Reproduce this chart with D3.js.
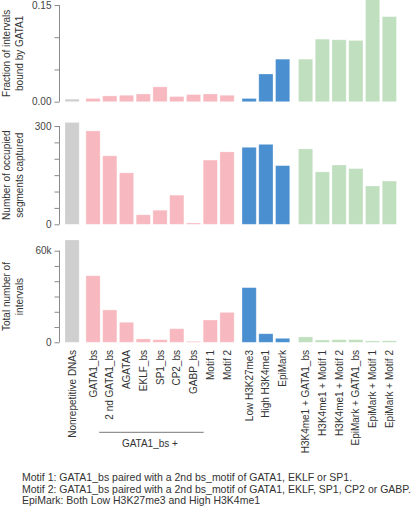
<!DOCTYPE html>
<html>
<head>
<meta charset="utf-8">
<script src="https://cdn.jsdelivr.net/npm/d3@7"></script>
<style>
  html, body { margin: 0; padding: 0; background: #fff; }
  svg { display: block; font-family: "Liberation Sans", Arial, Helvetica, sans-serif; }
</style>
</head>
<body>
<svg id="chart" width="411" height="508"></svg>
<script>
// ---------- DATA ----------
const categories = [
  "Nonrepetitive DNAs",
  "GATA1_bs", "2 nd GATA1_bs", "AGATAA", "EKLF_bs", "SP1_bs", "CP2_bs", "GABP_bs", "Motif 1", "Motif 2",
  "Low H3K27me3", "High H3K4me1", "EpiMark",
  "H3K4me1 + GATA1_bs", "H3K4me1 + Motif 1", "H3K4me1 + Motif 2",
  "EpiMark + GATA1_bs", "EpiMark + Motif 1", "EpiMark + Motif 2"
];
const groups = [0, 1,1,1,1,1,1,1,1,1, 2,2,2, 3,3,3,3,3,3];

const fractionBound = [0.004, 0.005, 0.009, 0.010, 0.012, 0.023, 0.008, 0.011, 0.012, 0.010,
                       0.005, 0.043, 0.066, 0.066, 0.097, 0.096, 0.095, 0.160, 0.132];
const occupiedSegments = [311, 285, 209, 157, 29, 43, 89, 4, 196, 221,
                          235, 244, 179, 230, 160, 181, 170, 117, 132];
const totalIntervals = [67000, 43600, 21200, 13100, 2200, 1700, 8900, 600, 14600, 19600,
                        35800, 5600, 2600, 3500, 1500, 1700, 1700, 900, 1000];

const panelTitles = [
  ["Fraction of intervals", "bound by GATA1"],
  ["Number of occupied", "segments captured"],
  ["Total number of", "intervals"]
];
const tickLabels1 = ["0.00", "0.15"];
const tickLabels2 = ["0", "300"];
const tickLabels3 = ["0", "60k"];
const groupLabel = "GATA1_bs +";
const footnotes = [
  "Motif 1: GATA1_bs paired with a 2nd bs_motif of GATA1, EKLF or SP1.",
  "Motif 2: GATA1_bs paired with a 2nd bs_motif of GATA1, EKLF, SP1, CP2 or GABP.",
  "EpiMark: Both Low H3K27me3 and High H3K4me1"
];

// ---------- LAYOUT ----------
const groupColors = ["#cfcfd0", "#f7b9bf", "#4a8fcf", "#bfdfbe"];
const groupOffset = [0, 0.25, 0.57, 0.94];
const pitch = 16.75, barW = 14.2, x0 = 65;
const xs = d3.scaleLinear().domain([0, 1]).range([x0, x0 + pitch]);
const barX = i => xs(i + groupOffset[groups[i]]);

const svg = d3.select("#chart");
const axisX = 59.5;
const textColor = "#333";
const axisColor = "#8a8a8a";

const panels = [
  { values: fractionBound, domain: [0, 0.15], range: [101.7, 5], step: 0.05, labels: tickLabels1, title: panelTitles[0] },
  { values: occupiedSegments, domain: [0, 300], range: [224.3, 126], step: 50, labels: tickLabels2, title: panelTitles[1] },
  { values: totalIntervals, domain: [0, 60000], range: [342.3, 250.7], step: 10000, labels: tickLabels3, title: panelTitles[2] }
];

panels.forEach(p => {
  const y = d3.scaleLinear().domain(p.domain).range(p.range);
  const g = svg.append("g");
  // bars
  g.selectAll("rect").data(p.values).join("rect")
    .attr("x", (d, i) => barX(i))
    .attr("width", barW)
    .attr("y", d => y(d))
    .attr("height", d => y(0) - y(d))
    .attr("fill", (d, i) => groupColors[groups[i]])
    .attr("stroke", "#ffffff")
    .attr("stroke-opacity", 0.35)
    .attr("stroke-width", 0.8);

  // axis
  const ticks = d3.range(p.domain[0], p.domain[1] + p.step / 2, p.step);
  const axis = d3.axisLeft(y).tickValues(ticks).tickSize(5).tickPadding(3)
    .tickFormat((d, i) => i === 0 ? p.labels[0] : (i === ticks.length - 1 ? p.labels[1] : ""));
  const ax = svg.append("g").attr("transform", `translate(${axisX},0)`).call(axis);
  ax.select(".domain").attr("stroke", axisColor).attr("d", `M0,${y(p.domain[0])}V${y(p.domain[1])}`);
  ax.selectAll(".tick line").attr("stroke", axisColor);
  ax.selectAll(".tick text").attr("fill", "#444").attr("font-size", 10).attr("font-family", "Liberation Sans, Arial, sans-serif");

  // title
  const midY = (p.range[0] + p.range[1]) / 2;
  p.title.forEach((t, k) => {
    svg.append("text")
      .attr("transform", `translate(${10 + k * 12.5},${midY}) rotate(-90)`)
      .attr("text-anchor", "middle")
      .attr("font-size", 10)
      .attr("fill", textColor)
      .text(t);
  });
});

// x labels
svg.append("g").selectAll("text").data(categories).join("text")
  .attr("transform", (d, i) => `translate(${barX(i) + barW / 2 + 3.5},350) rotate(-90)`)
  .attr("text-anchor", "end")
  .attr("font-size", 10)
  .attr("fill", textColor)
  .text(d => d);

// group bracket for GATA1_bs +
const gStart = barX(2) - 3.5, gEnd = barX(7) + barW + 3;
svg.append("line")
  .attr("x1", gStart).attr("x2", gEnd)
  .attr("y1", 432.3).attr("y2", 432.3)
  .attr("stroke", "#777").attr("stroke-width", 1);
svg.append("text")
  .attr("x", (gStart + gEnd) / 2 - 1.5)
  .attr("y", 447)
  .attr("text-anchor", "middle")
  .attr("font-size", 10)
  .attr("fill", textColor)
  .text(groupLabel);

// footnotes
svg.append("g").selectAll("text").data(footnotes).join("text")
  .attr("x", 22)
  .attr("y", (d, i) => 481 + i * 11.6)
  .attr("font-size", 10.5)
  .attr("fill", textColor)
  .text(d => d);
</script>
</body>
</html>
